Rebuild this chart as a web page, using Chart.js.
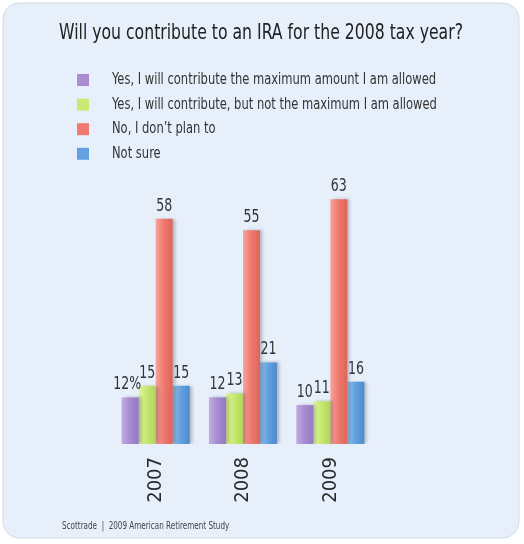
<!DOCTYPE html>
<html>
<head>
<meta charset="utf-8">
<script src="https://cdn.jsdelivr.net/npm/chart.js@4/dist/chart.umd.min.js"></script>
<style>
  html, body { margin: 0; padding: 0; background: #ffffff; }
  #wrap { width: 524px; height: 544px; }
</style>
</head>
<body>
<div id="wrap"><canvas id="iraCanvas" width="524" height="544"></canvas></div>
<script>
const iraCanvas = document.getElementById("iraCanvas");

const FONT = "'DejaVu Sans Condensed', 'Liberation Sans Narrow', sans-serif";

var years = ["2007", "2008", "2009"];

var answers = [
  "Yes, I will contribute the maximum amount I am allowed",
  "Yes, I will contribute, but not the maximum I am allowed",
  "No, I don\u2019t plan to",
  "Not sure"
];

var maxAmount = [12, 12, 10];
var notMaximum = [15, 13, 11];
var noPlan = [58, 55, 63];
var notSure = [15, 21, 16];

var barColors = ["#a98dd3", "#c8e972", "#ef7a70", "#63a1e1"];
// lighter and darker edges for the rounded look of the bars
var barLight = ["#c2ade2", "#dcf4a0", "#f7a59d", "#96c2ee"];
var barDark = ["#9379c2", "#b0d65a", "#de645a", "#4d8bce"];

var titleText = "Will you contribute to an IRA for the 2008 tax year?";
var sourceText = "Scottrade  |  2009 American Retirement Study";

var seriesValues = [maxAmount, notMaximum, noPlan, notSure];

// text squeezed horizontally, the font family has no narrower cut
function narrowText(ctx, txt, x, y, sx) {
  ctx.save();
  ctx.translate(x, y);
  ctx.scale(sx, 1);
  ctx.fillText(txt, 0, 0);
  ctx.restore();
}

// panel, title, legend and source line
const framePlugin = {
  id: "frame",
  beforeDraw(chart) {
    const ctx = chart.ctx;
    ctx.save();
    ctx.beginPath();
    ctx.roundRect(3, 3, 516, 535, 16);
    ctx.fillStyle = "#e7effb";
    ctx.fill();
    ctx.strokeStyle = "#d3dbe6";
    ctx.lineWidth = 1;
    ctx.stroke();
    ctx.restore();
  },
  afterDraw(chart) {
    const ctx = chart.ctx;
    ctx.save();
    ctx.fillStyle = "#222222";
    ctx.font = "21px " + FONT;
    ctx.textAlign = "center";
    ctx.textBaseline = "middle";
    narrowText(ctx, titleText, 261, 34, 0.83);

    ctx.textAlign = "left";
    ctx.font = "16px " + FONT;
    chart.data.datasets.forEach(function(ds, i) {
      const y = 80 + i * 24.6;
      ctx.fillStyle = ds.backgroundColor;
      ctx.fillRect(77, y - 6, 12, 12);
      ctx.fillStyle = "#333333";
      narrowText(ctx, ds.label, 112, y, 0.8);
    });

    ctx.font = "11px " + FONT;
    ctx.fillStyle = "#444444";
    narrowText(ctx, sourceText, 62, 526, 0.73);
    ctx.restore();
  }
};

// horizontal shading on each bar plus a soft shadow to its right
const shadePlugin = {
  id: "barShade",
  beforeDatasetDraw(chart, args) {
    const ctx = chart.ctx;
    const i = args.index;
    args.meta.data.forEach(function(bar) {
      const half = bar.width / 2;
      const g = ctx.createLinearGradient(bar.x - half, 0, bar.x + half, 0);
      g.addColorStop(0, barLight[i]);
      g.addColorStop(0.45, barColors[i]);
      g.addColorStop(1, barDark[i]);
      // options are shared between bars, so give each its own copy
      bar.options = Object.assign({}, bar.options, { backgroundColor: g });
    });
    ctx.save();
    ctx.shadowColor = "rgba(0,0,0,0.22)";
    ctx.shadowBlur = 3;
    ctx.shadowOffsetX = 3;
    ctx.shadowOffsetY = 0;
  },
  afterDatasetDraw(chart) {
    chart.ctx.restore();
  }
};

// value above each bar
const valuePlugin = {
  id: "barValues",
  afterDatasetsDraw(chart) {
    const ctx = chart.ctx;
    ctx.save();
    ctx.font = "17px " + FONT;
    ctx.fillStyle = "#333333";
    ctx.textAlign = "center";
    ctx.textBaseline = "bottom";
    chart.data.datasets.forEach(function(ds, i) {
      chart.getDatasetMeta(i).data.forEach(function(bar, j) {
        let txt = String(ds.data[j]);
        let dx = 0;
        if (i === 0 && j === 0) { txt += "%"; dx = -3; }
        narrowText(ctx, txt, bar.x + dx, bar.y - 4, 0.82);
      });
    });
    ctx.restore();
  }
};

new Chart(iraCanvas, {
  type: "bar",
  data: {
    labels: years,
    datasets: answers.map(function(name, i) {
      return {
        label: name,
        data: seriesValues[i],
        backgroundColor: barColors[i],
        barPercentage: 1,
        categoryPercentage: 0.78
      };
    })
  },
  options: {
    responsive: false,
    animation: false,
    layout: {
      padding: { left: 112, right: 150, top: 172, bottom: 40 }
    },
    plugins: {
      legend: { display: false },
      title: { display: false },
      tooltip: { enabled: false }
    },
    scales: {
      x: {
        grid: { display: false },
        border: { display: false },
        afterFit: function(scale) { scale.height = 60; },
        ticks: {
          color: "#2a2a2a",
          font: { size: 20, family: FONT },
          minRotation: 90,
          maxRotation: 90,
          padding: 5
        }
      },
      y: {
        display: false,
        min: 0,
        max: 70
      }
    }
  },
  plugins: [framePlugin, shadePlugin, valuePlugin]
});
</script>
</body>
</html>
